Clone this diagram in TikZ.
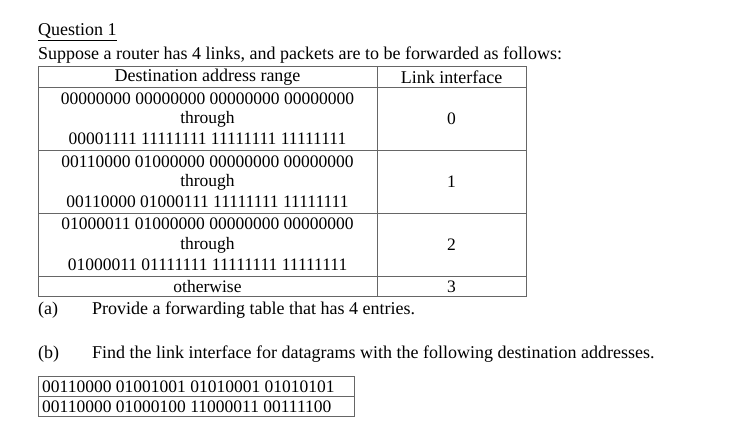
\documentclass[tikz,border=0pt]{standalone}
\usepackage{fontspec}
\setmainfont{Liberation Serif}
\begin{document}
\begin{tikzpicture}[x=1pt,y=-1pt,
  txt/.style={inner sep=0pt,font=\fontsize{18}{20}\selectfont},
  adr/.style={inner sep=0pt,font=\fontsize{17.5}{20}\selectfont},
  grid/.style={draw=black!60,line width=0.8pt}]
\useasboundingbox (0,0) rectangle (743,436);
\node[txt,anchor=west] (q) at (38,32) {\underline{Question 1}};
\node[txt,anchor=west] (s) at (38,55) {Suppose a router has 4 links, and packets are to be forwarded as follows:};
% table
\draw[grid] (38,66) rectangle (526,296);
\draw[grid] (377,66) -- (377,296);
\foreach \y in {87,150,213,276} \draw[grid] (38,\y) -- (526,\y);
\node[txt] (h1) at (207.5,77) {Destination address range};
\node[txt] (h2) at (451.5,77) {Link interface};
\node[adr] at (207.5,99) {00000000 00000000 00000000 00000000};
\node[adr] at (207.5,119) {through};
\node[adr] at (207.5,139) {00001111 11111111 11111111 11111111};
\node[adr] at (451.5,119) {0};
\node[adr] at (207.5,162) {00110000 01000000 00000000 00000000};
\node[adr] at (207.5,182) {through};
\node[adr] at (207.5,202) {00110000 01000111 11111111 11111111};
\node[adr] at (451.5,182) {1};
\node[adr] at (207.5,224) {01000011 01000000 00000000 00000000};
\node[adr] at (207.5,245) {through};
\node[adr] at (207.5,265) {01000011 01111111 11111111 11111111};
\node[adr] at (451.5,245) {2};
\node[adr] at (207.5,287) {otherwise};
\node[adr] at (451.5,287) {3};
\node[txt,anchor=west] (a) at (38,310) {(a)};
\node[txt,anchor=west] (at) at (92,310) {Provide a forwarding table that has 4 entries.};
\node[txt,anchor=west] (b) at (38,354) {(b)};
\node[txt,anchor=west] (bt) at (92,354) {Find the link interface for datagrams with the following destination addresses.};
\draw[grid] (38,376) rectangle (354,416);
\draw[grid] (38,396) -- (354,396);
\node[adr,anchor=west] at (42,387) {00110000 01001001 01010001 01010101};
\node[adr,anchor=west] at (42,407) {00110000 01000100 11000011 00111100};
\end{tikzpicture}
\end{document}
